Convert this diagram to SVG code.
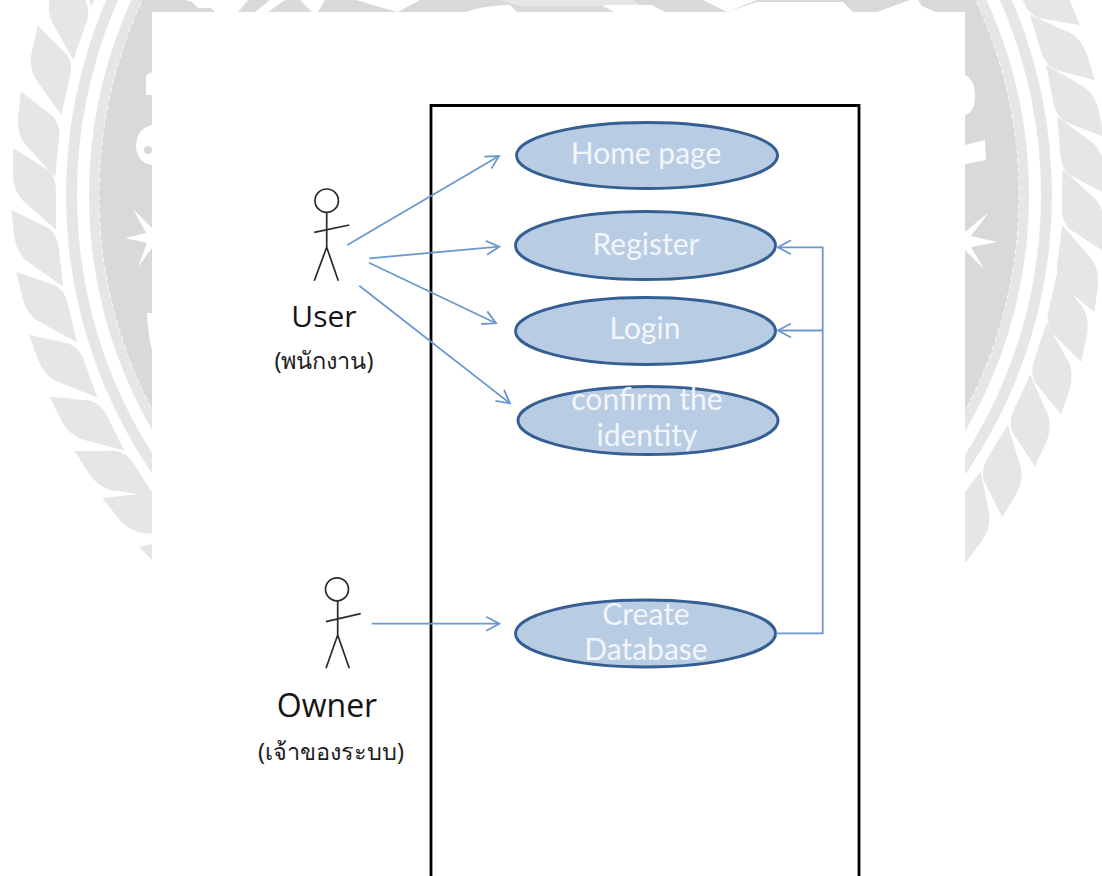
<svg xmlns="http://www.w3.org/2000/svg" xmlns:xlink="http://www.w3.org/1999/xlink" width="1102" height="876" viewBox="0 0 1102 876">
<style>
.leaf{fill:#e6e6e6}
.usecase{fill:#b8cce4;stroke:#355f92;stroke-width:2.9}
.uctext{font-family:"Lato","Open Sans",sans-serif;font-size:30px;fill:#f2f6fb;text-anchor:middle}
.actor{fill:none;stroke:#2a2a2a;stroke-width:1.7}
.aname{font-family:"Open Sans","Noto Sans",sans-serif;font-size:30px;fill:#141414;text-anchor:middle}
.thai{font-family:"Noto Sans","DejaVu Sans",sans-serif;font-size:23.5px;fill:#222;text-anchor:middle}
.conn{fill:none;stroke:#6a98cf;stroke-width:1.8}
.wm{fill:#fff}
</style>
<defs>
<marker id="open" markerUnits="userSpaceOnUse" markerWidth="20" markerHeight="20" refX="15" refY="9" orient="auto" overflow="visible">
<path d="M2 2L15 9L2 16" fill="none" stroke="#6a98cf" stroke-width="1.8"/>
</marker>
<path id="lf" class="leaf" d="M13 148L48 170Q56 178 56 190L56 230L28 205Q14 195 13 175Z"/>
</defs>
<rect width="1102" height="876" fill="#fff"/>
<g id="watermark">
<circle cx="559" cy="195" r="493" fill="#e6e6e6"/>
<circle cx="559" cy="195" r="482" fill="#fff"/>
<circle cx="559" cy="195" r="470" fill="#e6e6e6"/>
<circle cx="559" cy="195" r="460" fill="#d9d9d9"/>
<circle cx="559" cy="195" r="460" fill="none" stroke="#fff" stroke-width="0.8" stroke-dasharray="5 4"/>
<use xlink:href="#lf" href="#lf" transform="rotate(32 559 195)"/>
<use xlink:href="#lf" href="#lf" transform="rotate(26 559 195)"/>
<use xlink:href="#lf" href="#lf" transform="rotate(19.5 559 195)"/>
<use xlink:href="#lf" href="#lf" transform="rotate(13.1 559 195)"/>
<use xlink:href="#lf" href="#lf" transform="rotate(6 559 195)"/>
<use xlink:href="#lf" href="#lf"/>
<use xlink:href="#lf" href="#lf" transform="rotate(-6.5 559 195)"/>
<use xlink:href="#lf" href="#lf" transform="rotate(-13 559 195)"/>
<use xlink:href="#lf" href="#lf" transform="rotate(-19.7 559 195)"/>
<use xlink:href="#lf" href="#lf" transform="rotate(-26.5 559 195)"/>
<use xlink:href="#lf" href="#lf" transform="rotate(-32.8 559 195)"/>
<use xlink:href="#lf" href="#lf" transform="rotate(-38.5 559 195)"/>
<use xlink:href="#lf" href="#lf" transform="rotate(-44.9 559 195)"/>
<use xlink:href="#lf" href="#lf" transform="rotate(145 559 195)"/>
<use xlink:href="#lf" href="#lf" transform="rotate(151 559 195)"/>
<use xlink:href="#lf" href="#lf" transform="rotate(157 559 195)"/>
<use xlink:href="#lf" href="#lf" transform="rotate(163 559 195)"/>
<use xlink:href="#lf" href="#lf" transform="rotate(169 559 195)"/>
<use xlink:href="#lf" href="#lf" transform="rotate(175 559 195)"/>
<use xlink:href="#lf" href="#lf" transform="rotate(181 559 195)"/>
<use xlink:href="#lf" href="#lf" transform="rotate(187.4 559 195)"/>
<use xlink:href="#lf" href="#lf" transform="rotate(192.8 559 195)"/>
<use xlink:href="#lf" href="#lf" transform="rotate(198.7 559 195)"/>
<use xlink:href="#lf" href="#lf" transform="rotate(204.8 559 195)"/>
<use xlink:href="#lf" href="#lf" transform="rotate(211.1 559 195)"/>
<use xlink:href="#lf" href="#lf" transform="rotate(217.2 559 195)"/>
<path class="wm" d="M146 75L152 72V95H146Z"/>
<path class="wm" d="M152 125Q137 128 136 146Q137 163 152 165Z"/>
<circle cx="148" cy="150" r="4" fill="#d9d9d9"/>
<path class="wm" d="M125 238L146 233L133 209L152 228V248L138 267L147 243Z"/>
<path class="wm" d="M147 313H152V350Q148 335 147 313Z"/>
<path class="wm" d="M965 75Q975 80 975 95Q975 112 965 115Z"/>
<path class="wm" d="M965 145L985 140L986 160L965 164Z"/>
<path class="wm" d="M965 232L989 212L971 236L997 242L971 247L984 269L965 250Z"/>
<path class="wm" d="M185 0H248L238 12H215L211 8H198L192 2Z"/>
<path class="wm" d="M270 0H285L268 12H255Z"/>
<path class="wm" d="M300 0H325L318 12H312Z"/>
<path class="wm" d="M356 0H420L398 12H397Z"/>
<path class="wm" d="M467 12Q480 6 510 5L517 12Z"/>
<path fill="#e6e6e6" d="M500 0H633L650 12H615L600 6H520Z"/>
<path class="wm" d="M603 5H652L665 12H614Z"/>
<path class="wm" d="M703 0H757L727 12Z"/>
<path class="wm" d="M727 12L757 2H843L853 12Z"/>
<path class="wm" d="M877 12L910 0H918L922 6L936 12Z"/>
</g>
<rect id="panel" x="152" y="12" width="813" height="864" fill="#fff"/>
<rect x="0" y="565" width="1102" height="311" fill="#fff"/>
<g id="boundary">
<path d="M431 877V105.5H859V877" fill="none" stroke="#000" stroke-width="2.8"/>
</g>
<g id="uc-home"><ellipse class="usecase" cx="647" cy="155.5" rx="130.5" ry="33"/><text class="uctext" x="646" y="164">Home page</text></g>
<g id="uc-register"><ellipse class="usecase" cx="645.5" cy="245.5" rx="130" ry="34"/><text class="uctext" x="646" y="255">Register</text></g>
<g id="uc-login"><ellipse class="usecase" cx="645.5" cy="331" rx="130" ry="33.5"/><text class="uctext" x="645" y="339">Login</text></g>
<g id="uc-confirm"><ellipse class="usecase" cx="648" cy="420.5" rx="130" ry="34"/><text class="uctext" x="647" y="410">confirm the</text><text class="uctext" x="647" y="446">identity</text></g>
<g id="uc-database"><ellipse class="usecase" cx="645.5" cy="633.5" rx="130" ry="33.5"/><text class="uctext" x="646" y="625">Create</text><text class="uctext" x="646" y="660">Database</text></g>
<g id="actor-user">
<circle class="actor" cx="326.7" cy="200.7" r="11.7"/>
<path class="actor" d="M326.7 212.4V247.3M314.3 232.3L349.3 225M326.7 247.3L314.3 280.7M326.7 247.3L338.3 280.7"/>
<text class="aname" x="324" y="327">User</text>
<text class="thai" x="324" y="369">(พนักงาน)</text>
</g>
<g id="actor-owner">
<circle class="actor" cx="337" cy="589.3" r="11.5"/>
<path class="actor" d="M337.7 600.8V635M326 621.7L360.7 613.7M337.7 635L326 668.3M337.7 635L349.3 668.3"/>
<text class="aname" x="327" y="717" font-size="32" style="font-size:32px">Owner</text>
<text class="thai" x="331" y="760">(เจ้าของระบบ)</text>
</g>
<g id="connectors">
<path class="conn" d="M347.3 245L499 156" marker-end="url(#open)"/>
<path class="conn" d="M369.3 258.3L499.3 246.7" marker-end="url(#open)"/>
<path class="conn" d="M369 262.7L496 323.3" marker-end="url(#open)"/>
<path class="conn" d="M359.3 285.7L510 403.3" marker-end="url(#open)"/>
<path class="conn" d="M371.7 623.7H499.3" marker-end="url(#open)"/>
<path class="conn" d="M776 633.3H822.7V247.3H778" marker-end="url(#open)"/>
<path class="conn" d="M822.7 330.5H778" marker-end="url(#open)"/>
</g>
</svg>
